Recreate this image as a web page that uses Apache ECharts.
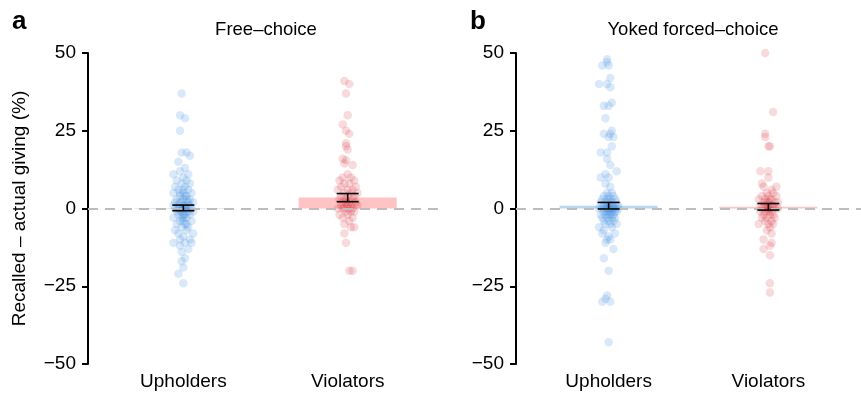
<!DOCTYPE html>
<html>

<head>
    <meta charset="utf-8">
    <title>Recalled giving</title>
    <script src="https://cdn.jsdelivr.net/npm/echarts@6/dist/echarts.min.js"></script>
</head>

<body style="margin:0">
    <div id="main" style="width: 861px;height:393px;"></div>
    <script type="text/javascript">
        // groups and y ticks
        var categories = ['Upholders', 'Violators'];
        var panelTitles = ['Free\u2013choice', 'Yoked forced\u2013choice'];
        var yTicks = [-50, -25, 0, 25, 50];

        // bar heights (group means) and standard errors
        var freeMeans = [0.2, 3.5];
        var freeSE = [0.9, 1.3];
        var yokedMeans = [0.9, 0.55];
        var yokedSE = [1.05, 1.05];

        // individual points: [horizontal jitter in 1/100 of category spacing, value]
        var freeUph = [
            [-1, 37], [-2, 30], [1, 29], [-2, 25], [-1, 18], [2, 18], [4, 17], [-3, 15], [1, 13], [-2, 12],
            [-6, 11], [3, 11], [0, 10], [-4, 9], [2, 9], [-1, 8], [4, 8], [-5, 7], [1, 7], [3, 6],
            [-3, 6], [0, 5], [-6, 5], [5, 5], [-2, 4], [2, 4], [-4, 3], [4, 3], [0, 3], [-1, 2],
            [3, 2], [-5, 2], [6, 2], [1, 1], [-3, 1], [-6, 1], [4, 1], [-2, 0], [2, 0], [0, 0],
            [5, 0], [-5, 0], [-1, -1], [3, -1], [-4, -1], [6, -1], [1, -2], [-3, -2], [4, -2], [-6, -3],
            [0, -3], [2, -3], [-2, -4], [5, -4], [-4, -5], [1, -5], [3, -6], [-1, -6], [-5, -7], [2, -7],
            [6, -8], [-3, -8], [0, -9], [-2, -10], [4, -10], [-6, -11], [1, -11], [5, -11], [-2, -12], [3, -13],
            [-1, -14], [1, -16], [-1, -17], [0, -19], [-3, -21], [0, -24], [0, 1], [-2, 2], [2, -1], [-1, 0],
            [1, 0], [3, 1], [-3, 0], [0, -2], [2, 3], [-2, -1], [1, 4], [-1, -3], [0, 6], [-2, 5],
            [2, -5], [0, -4]
        ];
        var freeVio = [
            [-2, 41], [1, 40], [-1, 37], [0, 30], [-3, 27], [-1, 25], [1, 24], [-1, 21], [-1, 20], [0, 19],
            [-3, 16], [-1, 15.5], [-2, 14.5], [3, 14], [0, 11], [-3, 10], [2, 10], [4, 9], [-5, 9], [1, 8],
            [-2, 8], [5, 7], [-4, 7], [0, 6], [3, 6], [-6, 6], [2, 5], [-2, 5], [6, 5], [-4, 4],
            [0, 4], [4, 4], [-1, 3], [3, 3], [-5, 3], [1, 2], [-3, 2], [5, 2], [-1, 2], [2, 1],
            [-4, 1], [0, 1], [6, 1], [-2, 0], [3, 0], [-6, 0], [1, 0], [-3, 0], [4, -1], [-1, -1],
            [2, -1], [-5, -2], [0, -2], [3, -3], [-3, -3], [1, -4], [-2, -5], [2, -6], [4, -6], [-2, -8],
            [-1, -11], [1, -20], [3, -20]
        ];
        var yokedUph = [
            [-1, 48], [-1, 47], [-4, 46], [0, 46], [1, 42], [-6, 40], [-1, 40], [1, 39], [2, 34], [-3, 33],
            [0, 33], [-2, 29], [2, 25], [-3, 24], [1, 24], [0, 23], [3, 23], [2, 20], [-5, 18], [-1, 18],
            [-1, 16], [1, 14], [5, 12], [-2, 11], [-5, 10], [0, 10], [-2, 8], [1, 7], [-1, 5], [2, 5],
            [-3, 4], [0, 4], [3, 4], [-1, 3], [1, 3], [4, 3], [-4, 3], [2, 2], [-2, 2], [0, 2],
            [5, 2], [-5, 2], [1, 1], [-1, 1], [3, 1], [-3, 1], [6, 1], [0, 1], [2, 0], [-2, 0],
            [4, 0], [-4, 0], [0, 0], [1, 0], [-1, 0], [6, 0], [-6, 0], [3, 0], [0, -1], [2, -1],
            [-3, -1], [5, -1], [-1, -1], [4, -1], [1, -2], [-2, -2], [3, -2], [-5, -2], [0, -2], [2, -3],
            [-1, -3], [-4, -3], [4, -3], [0, -4], [-3, -4], [3, -4], [1, -5], [-2, -5], [5, -5], [-6, -6],
            [2, -6], [-3, -7], [-4, -8], [4, -8], [0, -9], [-1, -10], [1, -10], [-2, -11], [3, -13], [-3, -16],
            [0, -20], [-1, -28], [-2, -29], [-4, -30], [1, -30], [0, -43]
        ];
        var yokedVio = [
            [-2, 50], [3, 31], [-2, 24], [-2, 23], [0, 20], [1, 20], [-5, 12], [0, 12], [0, 10], [-4, 8],
            [-3, 7], [5, 7], [2, 6], [-1, 5], [3, 5], [-4, 4], [0, 4], [5, 4], [-2, 3], [2, 3],
            [-6, 3], [1, 3], [-1, 2], [4, 2], [-3, 2], [0, 2], [6, 2], [2, 1], [-2, 1], [-5, 1],
            [3, 1], [0, 1], [1, 0], [-1, 0], [4, 0], [-4, 0], [0, 0], [6, 0], [-2, -1], [2, -1],
            [-5, -1], [0, -1], [3, -2], [-3, -2], [1, -2], [-1, -3], [4, -3], [-4, -3], [2, -4], [-2, -4],
            [-6, -5], [3, -5], [0, -5], [1, -6], [-1, -7], [2, -8], [-3, -10], [2, -11], [1, -12], [-3, -13],
            [1, -15], [1, -24], [1, -27]
        ];

        var FONT = "'Liberation Sans', Arial, sans-serif";
        var BLUE_PT = 'rgba(60,140,222,0.24)';
        var RED_PT = 'rgba(214,48,54,0.22)';
        var BLUE_BAR = '#b5d8f7';
        var RED_BAR = '#ffc3c3';

        function toPoints(arr, cat) {
            return arr.map(function (p) { return [cat + p[0] / 100, p[1]]; });
        }

        function minusFmt(v) {
            return v < 0 ? '\u2212' + Math.abs(v) : String(v);
        }

        function errorSeries(idx, means, se) {
            return {
                type: 'custom',
                xAxisIndex: idx,
                yAxisIndex: idx,
                z: 10,
                silent: true,
                data: means.map(function (m, i) { return [i + 1, m - se[i], m + se[i]]; }),
                renderItem: function (params, api) {
                    var lo = api.coord([api.value(0), api.value(1)]);
                    var hi = api.coord([api.value(0), api.value(2)]);
                    var w = 11;
                    var st = { stroke: '#000', lineWidth: 1.6 };
                    return {
                        type: 'group',
                        children: [
                            { type: 'line', shape: { x1: lo[0], y1: lo[1], x2: hi[0], y2: hi[1] }, style: st },
                            { type: 'line', shape: { x1: lo[0] - w, y1: lo[1], x2: lo[0] + w, y2: lo[1] }, style: st },
                            { type: 'line', shape: { x1: hi[0] - w, y1: hi[1], x2: hi[0] + w, y2: hi[1] }, style: st }
                        ]
                    };
                }
            };
        }

        function barSeries(idx, means) {
            return {
                type: 'bar',
                xAxisIndex: idx,
                yAxisIndex: idx,
                barWidth: 98,
                z: 1,
                silent: true,
                data: means.map(function (m, i) {
                    return { value: [i + 1, m], itemStyle: { color: i === 0 ? BLUE_BAR : RED_BAR } };
                }),
                markLine: {
                    silent: true,
                    symbol: 'none',
                    label: { show: false },
                    z: 5,
                    lineStyle: { color: '#bdbdbd', width: 2, type: [10, 7] },
                    data: [{ yAxis: 0 }]
                }
            };
        }

        function scatterSeries(idx, arr, cat, color) {
            return {
                type: 'scatter',
                xAxisIndex: idx,
                yAxisIndex: idx,
                symbolSize: 8.5,
                z: 2,
                silent: true,
                itemStyle: { color: color },
                data: toPoints(arr, cat)
            };
        }

        function xAxisFor(idx) {
            return {
                type: 'value',
                gridIndex: idx,
                min: 0.42,
                max: 2.58,
                axisLine: { show: false },
                axisTick: { show: false },
                splitLine: { show: false },
                axisLabel: {
                    customValues: [1, 2],
                    formatter: function (v) { return categories[Math.round(v) - 1]; },
                    color: '#000',
                    fontFamily: FONT,
                    fontSize: 19,
                    margin: 8
                }
            };
        }

        function yAxisFor(idx) {
            var ax = {
                type: 'value',
                gridIndex: idx,
                min: yTicks[0],
                max: yTicks[yTicks.length - 1],
                interval: 25,
                axisLine: { show: true, lineStyle: { color: '#000', width: 2 } },
                axisTick: { show: true, length: 6, lineStyle: { color: '#000', width: 2 } },
                splitLine: { show: false },
                axisLabel: {
                    color: '#000',
                    fontFamily: FONT,
                    fontSize: 19,
                    margin: 12,
                    formatter: minusFmt
                }
            };
            if (idx === 0) {
                ax.name = 'Recalled \u2013 actual giving (%)';
                ax.nameLocation = 'middle';
                ax.nameGap = 59;
                ax.nameTextStyle = { color: '#000', fontFamily: FONT, fontSize: 19 };
            }
            return ax;
        }

        var dom = document.getElementById('main');
        var myChart = echarts.init(dom, null, { renderer: 'canvas' });

        var option = {
            animation: false,
            backgroundColor: '#fff',
            grid: [
                { left: 88, top: 53, width: 355, height: 311 },
                { left: 516, top: 53, width: 356, height: 311 }
            ],
            xAxis: [xAxisFor(0), xAxisFor(1)],
            yAxis: [yAxisFor(0), yAxisFor(1)],
            graphic: [
                { type: 'text', x: 12, y: 22, style: { text: 'a', font: 'bold 26px ' + FONT, fill: '#000', verticalAlign: 'middle' } },
                { type: 'text', x: 470, y: 22, style: { text: 'b', font: 'bold 26px ' + FONT, fill: '#000', verticalAlign: 'middle' } },
                { type: 'text', x: 266, y: 30, style: { text: panelTitles[0], font: '18.5px ' + FONT, fill: '#000', align: 'center', verticalAlign: 'middle' } },
                { type: 'text', x: 693, y: 30, style: { text: panelTitles[1], font: '18.5px ' + FONT, fill: '#000', align: 'center', verticalAlign: 'middle' } }
            ],
            series: [
                barSeries(0, freeMeans),
                scatterSeries(0, freeUph, 1, BLUE_PT),
                scatterSeries(0, freeVio, 2, RED_PT),
                errorSeries(0, freeMeans, freeSE),
                barSeries(1, yokedMeans),
                scatterSeries(1, yokedUph, 1, BLUE_PT),
                scatterSeries(1, yokedVio, 2, RED_PT),
                errorSeries(1, yokedMeans, yokedSE)
            ]
        };

        myChart.setOption(option);
    </script>
</body>

</html>
